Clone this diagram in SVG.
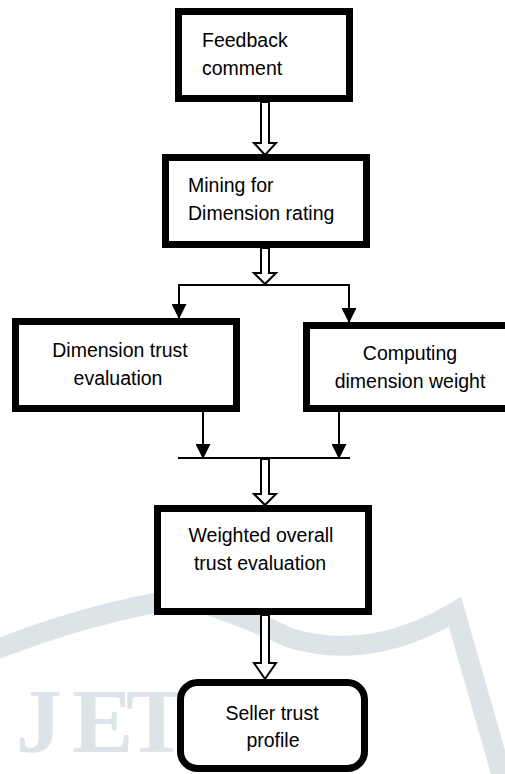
<svg xmlns="http://www.w3.org/2000/svg" width="505" height="774" viewBox="0 0 505 774">
<style>
.box{fill:#fff;stroke:#000;stroke-width:7}
.lbl{font-family:"Liberation Sans",Arial,sans-serif;font-size:19.5px;fill:#000}
.c{text-anchor:middle}
.hollow{fill:#fff;stroke:#000;stroke-width:2;stroke-linejoin:miter}
.ln{fill:none;stroke:#000;stroke-width:2}
.wm{fill:none;stroke:#dce4e8;stroke-width:20}
.wmt{font-family:"Liberation Serif","Times New Roman",serif;font-size:92px;font-weight:bold;fill:#dce4e8}
</style>
<defs>
<marker id="ah" markerWidth="16" markerHeight="15" refX="15" refY="8" orient="auto" markerUnits="userSpaceOnUse" viewBox="0 0 16 16">
<path d="M0,0 L16,8 L0,16 Z" fill="#000"/>
</marker>
</defs>
<rect width="505" height="774" fill="#fff"/>
<g id="watermark">
<path class="wm" d="M-10,652 Q90,612 185,598 Q235,612 290,638 Q370,662 455,612 L503,780"/>
<text class="wmt" x="16 72 126" y="752">JET</text>
</g>
<g id="connectors">
<polygon class="hollow" points="261,102 261,143 254,143 265,155 276,143 269,143 269,102"/>
<polygon class="hollow" points="261,248 261,273 254,273 265,284 276,273 269,273 269,248"/>
<line class="ln" x1="178" y1="285" x2="350" y2="285"/>
<line class="ln" x1="179" y1="284" x2="179" y2="318" marker-end="url(#ah)"/>
<line class="ln" x1="349" y1="284" x2="349" y2="322" marker-end="url(#ah)"/>
<line class="ln" x1="203" y1="412" x2="203" y2="458" marker-end="url(#ah)"/>
<line class="ln" x1="339" y1="412" x2="339" y2="458" marker-end="url(#ah)"/>
<line class="ln" x1="178" y1="458" x2="350" y2="458"/>
<polygon class="hollow" points="261,459 261,494 254,494 265,505 276,494 269,494 269,459"/>
<polygon class="hollow" points="261,615 261,663 254,663 265,679 276,663 269,663 269,615"/>
</g>
<g id="n1">
<rect class="box" x="178.5" y="11.5" width="171" height="87"/>
<text class="lbl" x="202" y="47">Feedback</text>
<text class="lbl" x="202" y="75">comment</text>
</g>
<g id="n2">
<rect class="box" x="165.5" y="157.5" width="201" height="87"/>
<text class="lbl" x="188" y="192">Mining for</text>
<text class="lbl" x="188" y="220">Dimension rating</text>
</g>
<g id="n3">
<rect class="box" x="15.5" y="321.5" width="221" height="87"/>
<text class="lbl c" x="120" y="357">Dimension trust</text>
<text class="lbl c" x="118" y="385">evaluation</text>
</g>
<g id="n4">
<rect class="box" x="306.5" y="325.5" width="210" height="83"/>
<text class="lbl c" x="410" y="360">Computing</text>
<text class="lbl c" x="410" y="388">dimension weight</text>
</g>
<g id="n5">
<rect class="box" x="157.5" y="508.5" width="211" height="103"/>
<text class="lbl c" x="261" y="542">Weighted overall</text>
<text class="lbl c" x="260" y="570">trust evaluation</text>
</g>
<g id="n6">
<rect class="box" x="180.5" y="682.5" width="184" height="86" rx="17"/>
<text class="lbl c" x="272" y="720">Seller trust</text>
<text class="lbl c" x="273" y="747">profile</text>
</g>
</svg>
